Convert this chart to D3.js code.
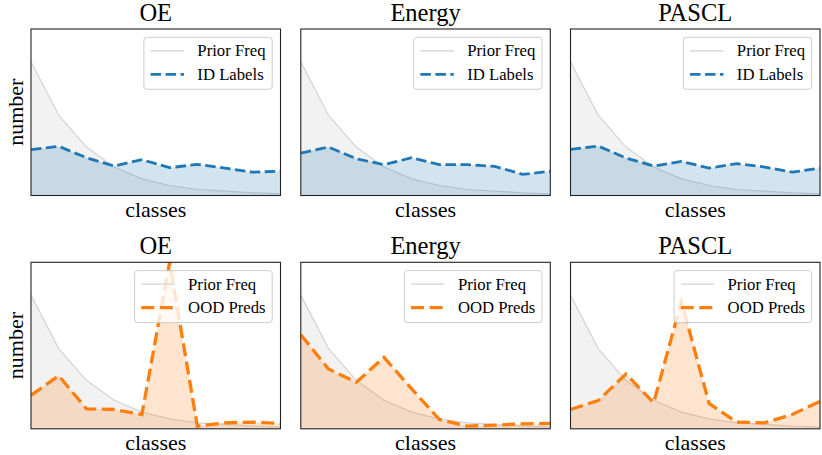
<!DOCTYPE html>
<html>
<head>
<meta charset="utf-8">
<script src="https://cdn.jsdelivr.net/npm/d3@7"></script>
<style>
  body { margin: 0; background: #fff; }
  svg { display: block; font-family: "Liberation Serif", "Times New Roman", serif; }
</style>
</head>
<body>
<div id="chart"></div>
<script>
// values, normalised so 1 = top of the axes
const classes = [0, 1, 2, 3, 4, 5, 6, 7, 8, 9];
const methods = ['OE', 'Energy', 'PASCL'];
const priorFreq = [0.803, 0.482, 0.291, 0.171, 0.100, 0.060, 0.036, 0.026, 0.016, 0.010];

const idOE     = [0.275, 0.295, 0.227, 0.177, 0.215, 0.167, 0.187, 0.165, 0.140, 0.146];
const idEnergy = [0.255, 0.291, 0.221, 0.185, 0.227, 0.185, 0.185, 0.175, 0.127, 0.145];
const idPASCL  = [0.277, 0.297, 0.225, 0.177, 0.205, 0.165, 0.191, 0.171, 0.140, 0.165];

const oodOE     = [0.201, 0.319, 0.120, 0.116, 0.086, 1.000, 0.016, 0.036, 0.040, 0.032];
const oodEnergy = [0.565, 0.359, 0.279, 0.429, 0.240, 0.056, 0.016, 0.022, 0.030, 0.032];
const oodPASCL  = [0.116, 0.170, 0.329, 0.156, 0.764, 0.152, 0.040, 0.036, 0.086, 0.165];

const rows = [
  { name: 'ID Labels', color: '#1f77b4', dash: '10.5,4.5', width: 2.8, series: [idOE, idEnergy, idPASCL] },
  { name: 'OOD Preds', color: '#ff7f0e', dash: '13,5.5', width: 3.3, series: [oodOE, oodEnergy, oodPASCL] }
];

const W = 822, H = 455;
const colLeft = [31, 300.8, 570.5];
const rowTop = [29, 262.3];
const axW = 249.5, axH = 166.5;

const svg = d3.select('#chart').append('svg')
  .attr('width', W)
  .attr('height', H);

const x = d3.scaleLinear().domain([0, classes.length - 1]).range([0, axW]);
const y = d3.scaleLinear().domain([0, 1]).range([axH, 0]);

const area = d3.area()
  .x(function(d, i) { return x(classes[i]); })
  .y0(y(0))
  .y1(function(d) { return y(d); });

const line = d3.line()
  .x(function(d, i) { return x(classes[i]); })
  .y(function(d) { return y(d); });

svg.append('defs').append('clipPath')
    .attr('id', 'ax-clip')
  .append('rect')
    .attr('width', axW)
    .attr('height', axH);

rows.forEach(function(row, r) {
  methods.forEach(function(method, c) {
    const g = svg.append('g')
      .attr('transform', `translate(${colLeft[c]}, ${rowTop[r]})`);

    const plot = g.append('g').attr('clip-path', 'url(#ax-clip)');

    // prior frequency, grey
    plot.append('path')
      .attr('d', area(priorFreq))
      .attr('fill', '#d3d3d3')
      .attr('fill-opacity', 0.3);
    plot.append('path')
      .attr('d', line(priorFreq))
      .attr('fill', 'none')
      .attr('stroke', '#d3d3d3')
      .attr('stroke-width', 1.2);

    // labels / predictions
    const values = row.series[c];
    plot.append('path')
      .attr('d', area(values))
      .attr('fill', row.color)
      .attr('fill-opacity', 0.2);
    plot.append('path')
      .attr('d', line(values))
      .attr('fill', 'none')
      .attr('stroke', row.color)
      .attr('stroke-width', row.width)
      .attr('stroke-dasharray', row.dash);

    // frame
    g.append('rect')
      .attr('width', axW)
      .attr('height', axH)
      .attr('fill', 'none')
      .attr('stroke', '#222')
      .attr('stroke-width', 1.1);

    // title and axis labels
    g.append('text')
      .attr('x', axW / 2)
      .attr('y', -8.5)
      .attr('text-anchor', 'middle')
      .attr('font-size', '24.5px')
      .text(method);

    g.append('text')
      .attr('x', axW / 2)
      .attr('y', axH + 21)
      .attr('text-anchor', 'middle')
      .attr('font-size', '22px')
      .text('classes');

    if (c === 0) {
      g.append('text')
        .attr('transform', `translate(-8.5, ${axH / 2}) rotate(-90)`)
        .attr('text-anchor', 'middle')
        .attr('font-size', '22px')
        .text('number');
    }

    // legend, upper right
    const legend = g.append('g');
    const box = legend.append('rect')
      .attr('fill', '#fff')
      .attr('fill-opacity', 0.8)
      .attr('stroke', '#cccccc')
      .attr('stroke-width', 1)
      .attr('rx', 3);

    const entries = [
      { label: 'Prior Freq', color: '#d3d3d3', width: 1.2, dash: null },
      { label: row.name, color: row.color, width: row.width, dash: row.dash }
    ];

    let textW = 0;
    const items = entries.map(function(e, i) {
      const cy = 13.5 + i * 23.5;
      const hl = legend.append('line')
        .attr('y1', cy)
        .attr('y2', cy)
        .attr('stroke', e.color)
        .attr('stroke-width', e.width)
        .attr('stroke-dasharray', e.dash);
      const t = legend.append('text')
        .attr('y', cy)
        .attr('dy', '0.33em')
        .attr('font-size', '16.7px')
        .text(e.label);
      textW = Math.max(textW, t.node().getComputedTextLength());
      return { hl: hl, t: t };
    });

    const legW = 6.7 + 33.4 + 13.4 + textW + 6.7;
    const legH = 52;
    const legX = axW - 8.3 - legW;
    legend.attr('transform', `translate(${legX}, 8.3)`);
    box.attr('width', legW).attr('height', legH);
    items.forEach(function(it) {
      it.hl.attr('x1', 6.7).attr('x2', 6.7 + 33.4);
      it.t.attr('x', 6.7 + 33.4 + 13.4);
    });
  });
});
</script>
</body>
</html>
